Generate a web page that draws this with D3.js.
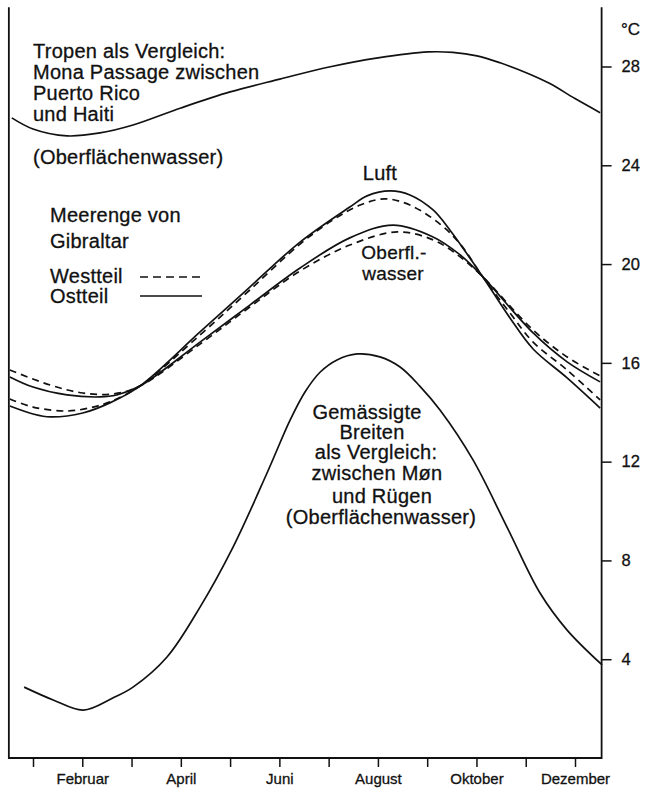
<!DOCTYPE html>
<html>
<head>
<meta charset="utf-8">
<script src="https://cdnjs.cloudflare.com/ajax/libs/d3/7.8.5/d3.min.js"></script>
<style>
  body { margin: 0; background: #fff; }
  svg text { font-family: "Liberation Sans", Arial, sans-serif; fill: #111; stroke: #111; stroke-width: 0.3px; }
</style>
</head>
<body>
<div id="chart"></div>
<script>
// month position (1 = Januar) and temperature in °C
var monate = d3.range(1, 13);
var monatLabels = ["", "Februar", "", "April", "", "Juni", "", "August", "", "Oktober", "", "Dezember"];
var tempTicks = [4, 8, 12, 16, 20, 24, 28];

var tropen = [[0.57,25.92],[1,25.47],[1.69,25.19],[2.36,25.31],[3.03,25.63],[4,26.32],[5,26.97],[6.01,27.49],
  [7.01,27.98],[8,28.35],[9.02,28.59],[9.52,28.57],[10.01,28.43],[10.48,28.15],[11.01,27.75],[11.49,27.31],
  [12,26.7],[12.51,26.13]];

var wasserOst = [[0.53,15.43],[1,15.02],[1.69,14.7],[2.36,14.62],[2.7,14.7],[3.17,15.06],[4.39,16.84],[5.4,18.34],
  [6.42,19.84],[7.43,21.06],[8.31,21.58],[9.12,21.1],[9.67,20.37],[10.13,19.48],[11.15,17.21],[11.84,16.04],
  [12.51,15.23]];

var wasserWest = [[0.53,15.71],[1.35,15.1],[2.01,14.78],[2.62,14.74],[3.17,15.06],[4.39,16.76],[5.4,18.26],
  [6.42,19.72],[7.43,20.77],[8.39,21.3],[9.12,20.98],[9.67,20.29],[10.13,19.48],[11.15,17.33],[11.84,16.24],
  [12.51,15.47]];

var luftOst = [[0.53,14.25],[1,13.93],[1.35,13.81],[2.01,13.97],[2.56,14.38],[3.17,15.06],[4.39,17.25],[5.4,19.07],
  [6.42,20.89],[7.43,22.31],[7.78,22.76],[8.25,22.96],[8.65,22.8],[9.12,22.19],[9.46,21.38],[10.13,19.48],
  [10.68,17.82],[11.15,16.56],[11.84,15.39],[12.51,14.17]];

var luftWest = [[0.53,14.54],[1,14.21],[1.69,14.05],[2.22,14.21],[2.56,14.42],[3.17,15.06],[4.39,17.13],[5.4,18.95],
  [6.42,20.81],[7.09,21.79],[7.64,22.39],[8.14,22.64],[8.65,22.39],[9.26,21.62],[9.67,20.81],[10.13,19.48],
  [10.68,18.02],[11.15,16.84],[11.84,15.71],[12.51,14.5]];

var gemaessigt = [[0.82,2.87],[1.41,2.35],[2.02,1.94],[2.62,2.43],[3.03,2.87],[3.72,4.09],[4.39,6.11],[5.06,8.54],
  [5.75,11.54],[6.22,13.69],[6.52,14.82],[6.83,15.63],[7.17,16.12],[7.58,16.36],[8.04,16.24],[8.45,15.83],
  [8.85,15.06],[9.26,14.09],[9.93,12.07],[10.62,9.35],[11.29,6.68],[11.84,5.18],[12.55,3.77]];

var W = 645, H = 791;
var svg = d3.select("#chart").append("svg")
    .attr("width", W)
    .attr("height", H);

var x = d3.scaleLinear().domain([1, 12]).range([33, 575]);
var y = d3.scaleLinear().domain([0, 28]).range([758, 66.5]);

var xL = x(0.51), xR = x(12.54), yTop = y(30.4), yBot = y(0);

// frame: left, right and bottom lines
svg.append("path")
    .attr("d", "M" + xL + "," + yTop + "V" + yBot + "H" + xR + "V" + yTop)
    .attr("fill", "none")
    .attr("stroke", "#111")
    .attr("stroke-width", 1.8);

// bottom axis
var xAxis = d3.axisBottom(x)
    .tickValues(monate)
    .tickSize(9)
    .tickSizeOuter(0)
    .tickPadding(6)
    .tickFormat(function(d) { return monatLabels[d - 1]; });

var gx = svg.append("g").attr("transform", "translate(0," + yBot + ")").call(xAxis);
gx.select(".domain").remove();
gx.selectAll("line").attr("stroke", "#111").attr("stroke-width", 1.5);
gx.selectAll("text").style("font-size", "15px").attr("fill", "#111");

// right axis
var yAxis = d3.axisRight(y)
    .tickValues(tempTicks)
    .tickSize(10)
    .tickPadding(10);

var gy = svg.append("g").attr("transform", "translate(" + xR + ",0)").call(yAxis);
gy.select(".domain").remove();
gy.selectAll("line").attr("stroke", "#111").attr("stroke-width", 1.5);
gy.selectAll("text").style("font-size", "16.5px").attr("fill", "#111");

svg.append("text")
    .attr("x", 621).attr("y", 35)
    .style("font-size", "17px")
    .text("°C");

// curves
var line = d3.line()
    .x(function(d) { return x(d[0]); })
    .y(function(d) { return y(d[1]); })
    .curve(d3.curveCatmullRom.alpha(0.5));

var series = [
  { data: tropen, dash: null },
  { data: wasserOst, dash: null },
  { data: wasserWest, dash: "7,5" },
  { data: luftOst, dash: null },
  { data: luftWest, dash: "7,5" },
  { data: gemaessigt, dash: null }
];

svg.selectAll("path.kurve")
    .data(series)
    .enter().append("path")
    .attr("class", "kurve")
    .attr("d", function(d) { return line(d.data); })
    .attr("fill", "none")
    .attr("stroke", "#111")
    .attr("stroke-width", 1.7)
    .attr("stroke-dasharray", function(d) { return d.dash; });

// annotation text
function textBlock(lines, anchor) {
  lines.forEach(function(l) {
    svg.append("text")
        .attr("x", l[1]).attr("y", l[2])
        .attr("text-anchor", anchor)
        .style("font-size", l[3] || "20px")
        .style("letter-spacing", "0.25px")
        .text(l[0]);
  });
}

textBlock([
  ["Tropen als Vergleich:", 33, 58],
  ["Mona Passage zwischen", 33, 79],
  ["Puerto Rico", 33, 100],
  ["und Haiti", 33, 121],
  ["(Oberflächenwasser)", 33, 164],
  ["Meerenge von", 50, 222],
  ["Gibraltar", 50, 248],
  ["Westteil", 50, 283],
  ["Ostteil", 50, 303]
], "start");

textBlock([
  ["Luft", 380, 180],
  ["Oberfl.-", 394, 259, "19px"],
  ["wasser", 393, 280, "19px"],
  ["Gemässigte", 367, 419],
  ["Breiten", 372, 439],
  ["als Vergleich:", 376, 459],
  ["zwischen Møn", 377, 480],
  ["und Rügen", 382, 503],
  ["(Oberflächenwasser)", 381, 524]
], "middle");

// legend lines
svg.append("line")
    .attr("x1", 140).attr("x2", 202).attr("y1", 277).attr("y2", 277)
    .attr("stroke", "#111").attr("stroke-width", 1.7).attr("stroke-dasharray", "8,5");
svg.append("line")
    .attr("x1", 140).attr("x2", 202).attr("y1", 296).attr("y2", 296)
    .attr("stroke", "#111").attr("stroke-width", 1.7);
</script>
</body>
</html>
